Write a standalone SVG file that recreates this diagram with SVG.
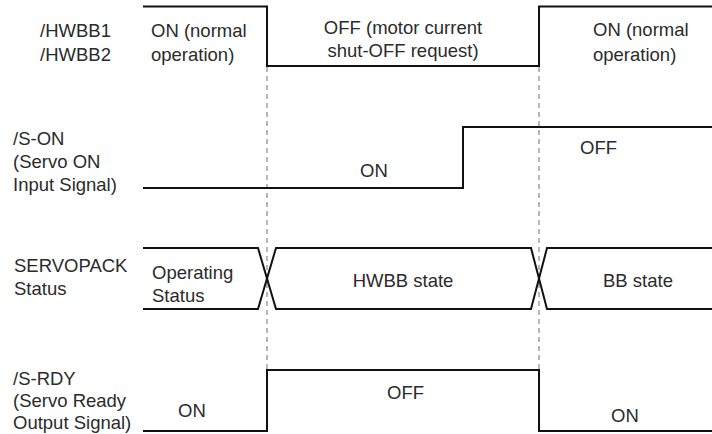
<svg xmlns="http://www.w3.org/2000/svg" width="712" height="434" viewBox="0 0 712 434">
<style>
.t{font-family:"Liberation Sans",Arial,sans-serif;font-size:18.5px;fill:#2b2b2b}
.c{text-anchor:middle}
.w{fill:none;stroke:#111;stroke-width:2;stroke-linejoin:miter}
.d{fill:none;stroke:#888;stroke-width:1.2;stroke-dasharray:5 4}
</style>
<rect width="712" height="434" fill="#fff"/>
<g id="connectors">
<line class="d" x1="267" y1="67" x2="267" y2="370"/>
<line class="d" x1="539" y1="67" x2="539" y2="370"/>
</g>
<g id="hwbb">
<text class="t" x="40" y="37">/HWBB1</text>
<text class="t" x="40" y="61">/HWBB2</text>
<polyline class="w" points="143,6.5 267,6.5 267,66 539,66 539,6.5 712,6.5"/>
<text class="t" x="151" y="37">ON (normal</text>
<text class="t" x="151" y="61">operation)</text>
<text class="t c" x="403" y="34">OFF (motor current</text>
<text class="t c" x="403" y="57">shut-OFF request)</text>
<text class="t" x="593" y="36">ON (normal</text>
<text class="t" x="593" y="61">operation)</text>
</g>
<g id="son">
<text class="t" x="13" y="145">/S-ON</text>
<text class="t" x="13" y="168">(Servo ON</text>
<text class="t" x="13" y="191">Input Signal)</text>
<polyline class="w" points="143,188 463,188 463,127 712,127"/>
<text class="t" x="360" y="177">ON</text>
<text class="t" x="580" y="154">OFF</text>
</g>
<g id="servopack">
<text class="t" x="14" y="272">SERVOPACK</text>
<text class="t" x="14" y="295">Status</text>
<polyline class="w" points="143,248 258,248 276,309 531,309 547,248 712,248"/>
<polyline class="w" points="143,309 258,309 276,248 531,248 547,309 712,309"/>
<text class="t" x="152" y="279">Operating</text>
<text class="t" x="152" y="302">Status</text>
<text class="t c" x="403" y="287">HWBB state</text>
<text class="t c" x="638" y="287">BB state</text>
</g>
<g id="srdy">
<text class="t" x="13" y="385">/S-RDY</text>
<text class="t" x="13" y="407">(Servo Ready</text>
<text class="t" x="13" y="429">Output Signal)</text>
<polyline class="w" points="143,431 267,431 267,370 539,370 539,431 712,431"/>
<text class="t" x="178" y="417">ON</text>
<text class="t" x="387" y="399">OFF</text>
<text class="t" x="611" y="422">ON</text>
</g>
</svg>
